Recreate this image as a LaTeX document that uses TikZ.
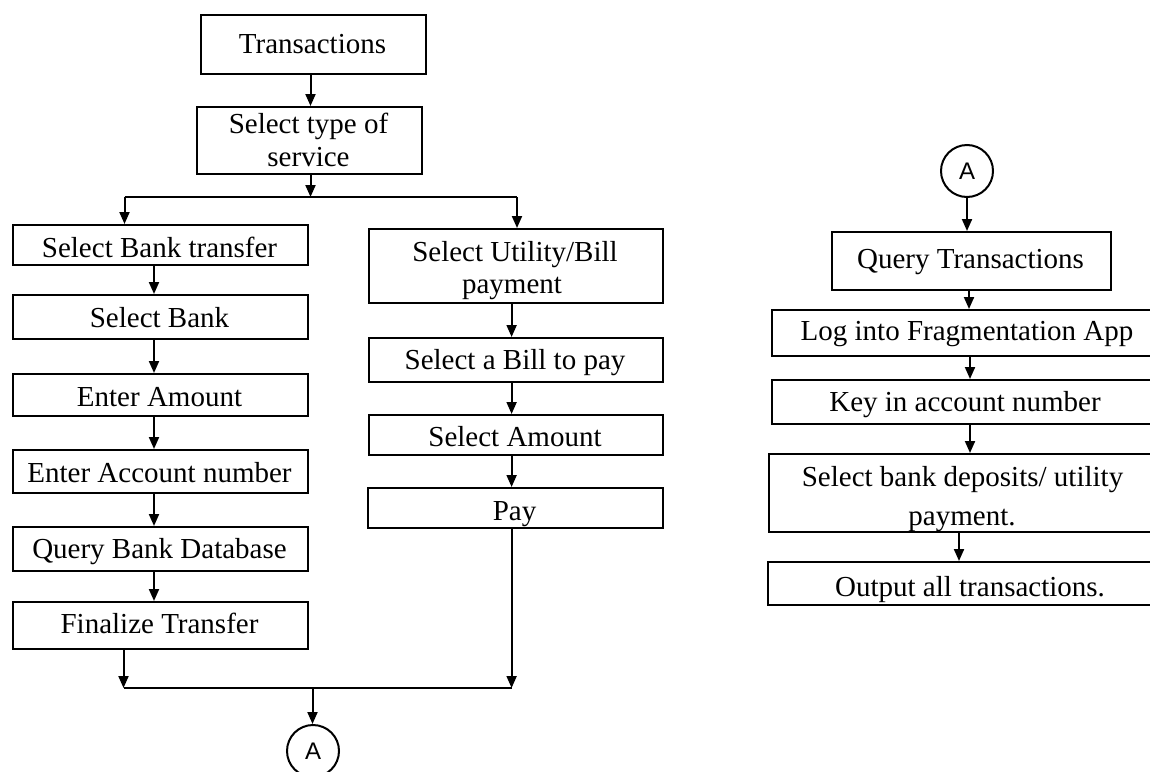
\documentclass[tikz,border=0pt]{standalone}
\usepackage{fontspec}
\setmainfont{Liberation Serif}
\newfontfamily\asansfont{Liberation Sans}
\usetikzlibrary{arrows.meta}
\newcommand\mybox[5]{\node[box, minimum width={#4pt-#2pt}, minimum height={#5pt-#3pt}] (#1) at (#2,#3) {};}
\newcommand\mytext[4]{\node[txt] (#1) at (#2,#3) {#4};}
\begin{document}
\begin{tikzpicture}[x=1pt,y=-1pt,
  box/.style={draw, line width=2pt, rectangle, inner sep=0pt, anchor=north west},
  txt/.style={anchor=base, inner sep=0pt, font=\fontsize{29}{34}\selectfont},
  circ/.style={draw, circle, line width=2pt, minimum size=52pt, inner sep=0pt, font=\fontsize{24}{28}\selectfont\asansfont},
  arr/.style={line width=2pt, -{Triangle[length=12pt,width=10pt]}},
  ln/.style={line width=2pt}]
\useasboundingbox (0,0) rectangle (1150,771);
\clip (0,0) rectangle (1150,771);
% boxes
\mybox{tr}{200}{14}{425}{73}
\mybox{st}{196}{106}{421}{173}
\mybox{bt}{12}{224}{307}{264}
\mybox{sb}{12}{294}{307}{338}
\mybox{ea}{12}{373}{307}{415}
\mybox{ean}{12}{449}{307}{492}
\mybox{qb}{12}{526}{307}{570}
\mybox{ft}{12}{601}{307}{648}
\mybox{su}{368}{228}{662}{302}
\mybox{sbl}{368}{337}{662}{381}
\mybox{sa}{368}{414}{662}{454}
\mybox{pay}{367}{487}{662}{527}
\mybox{qt}{831}{231}{1110}{289}
\mybox{lg}{771}{309}{1160}{355}
\mybox{ky}{771}{379}{1159}{423}
\mybox{sbd}{768}{453}{1157}{531}
\mybox{out}{767}{561}{1173}{604}
% texts
\mytext{tr-t}{312.5}{53}{Transactions}
\mytext{st-t1}{308.5}{133}{Select type of}
\mytext{st-t2}{308.5}{166}{service}
\mytext{bt-t}{159.5}{257}{Select Bank transfer}
\mytext{sb-t}{159.5}{327}{Select Bank}
\mytext{ea-t}{159.5}{406.5}{Enter Amount}
\mytext{ean-t}{159.5}{482}{Enter Account number}
\mytext{qb-t}{159.5}{558.5}{Query Bank Database}
\mytext{ft-t}{159.5}{633.5}{Finalize Transfer}
\mytext{su-t1}{515}{261.5}{Select Utility/Bill}
\mytext{su-t2}{512}{293.5}{payment}
\mytext{sbl-t}{515}{369.5}{Select a Bill to pay}
\mytext{sa-t}{515}{446.5}{Select Amount}
\mytext{pay-t}{514.5}{520}{Pay}
\mytext{qt-t}{970.5}{268}{Query Transactions}
\mytext{lg-t}{967}{340}{Log into Fragmentation App}
\mytext{ky-t}{965}{411.5}{Key in account number}
\mytext{sbd-t1}{962.5}{486.5}{Select bank deposits/ utility}
\mytext{sbd-t2}{962}{525}{payment.}
\mytext{out-t}{970}{596.5}{Output all transactions.}
% connector circles
\node[circ] (ca) at (313,751) {A};
\node[circ] (cb) at (967,171) {A};
% connectors, top
\coordinate (c1) at (310.5,0);
\coordinate (jm) at (310.5,197);
\coordinate (jl) at (124.5,197);
\coordinate (jr) at (517,197);
\draw[arr] (tr.south -| c1) -- (st.north -| c1);
\draw[arr] (st.south -| jm) -- (jm);
\draw[ln] (jl) -- (jr);
\draw[arr] (jl) -- (jl |- bt.north);
\draw[arr] (jr) -- (jr |- su.north);
% left column
\coordinate (lc) at (154,0);
\foreach \a/\b in {bt/sb, sb/ea, ea/ean, ean/qb, qb/ft}
  \draw[arr] (\a.south -| lc) -- (\b.north -| lc);
% right column
\coordinate (rc) at (511.6,0);
\foreach \a/\b in {su/sbl, sbl/sa, sa/pay}
  \draw[arr] (\a.south -| rc) -- (\b.north -| rc);
% merge
\coordinate (bl) at (123.5,688);
\coordinate (br) at (511.6,688);
\coordinate (bm) at (312.5,688);
\draw[arr] (ft.south -| bl) -- (bl);
\draw[arr] (pay.south -| br) -- (br);
\draw[ln] (bl) -- (br);
\draw[arr] (bm) -- (bm |- ca.north);
% right chart
\draw[arr] (cb.south) -- (cb.south |- qt.north);
\coordinate (r1) at (969,0);
\coordinate (r2) at (970,0);
\coordinate (r3) at (959,0);
\draw[arr] (qt.south -| r1) -- (lg.north -| r1);
\draw[arr] (lg.south -| r2) -- (ky.north -| r2);
\draw[arr] (ky.south -| r2) -- (sbd.north -| r2);
\draw[arr] (sbd.south -| r3) -- (out.north -| r3);
\end{tikzpicture}
\end{document}
